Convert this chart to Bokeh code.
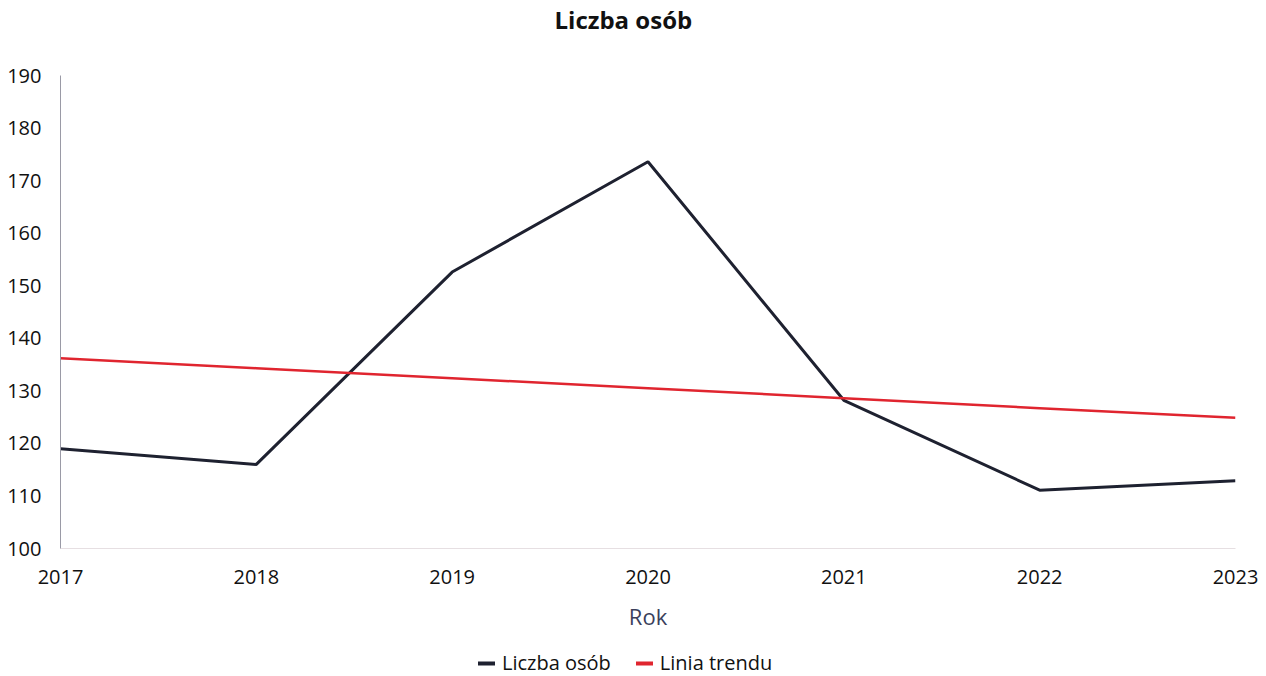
from bokeh.plotting import figure
from bokeh.models import Legend, LegendItem, FixedTicker, Range1d
from bokeh.layouts import column
from bokeh.embed import file_html
from bokeh.resources import INLINE

years = [2017, 2018, 2019, 2020, 2021, 2022, 2023]
liczba_osob = [119, 116, 152.6, 173.6, 128.2, 111.1, 112.9]
linia_trendu = [136.2, 134.3, 132.4, 130.5, 128.6, 126.7, 124.9]
y_ticks = [100, 110, 120, 130, 140, 150, 160, 170, 180, 190]
series_names = ["Liczba osób", "Linia trendu"]
series_colors = ["#1e2130", "#e0252f"]
title_text = "Liczba osób"
x_label = "Rok"

FONT = "Open Sans"
W = 1258


def blank(fig):
    fig.outline_line_color = None
    fig.xgrid.grid_line_color = None
    fig.ygrid.grid_line_color = None


# title strip
tf = figure(width=W, height=42, output_backend="svg", toolbar_location=None,
            x_range=Range1d(0, 1), y_range=Range1d(0, 1),
            x_axis_location=None, y_axis_location=None,
            min_border_left=0, min_border_right=0, min_border_top=0, min_border_bottom=0)
blank(tf)
tf.title.text = title_text
tf.title.align = "left"
tf.title.offset = 494
tf.title.text_font = FONT
tf.title.text_font_size = "24px"
tf.title.text_font_style = "bold"
tf.title.text_color = "#111111"
tf.title.standoff = 0

# main chart
p = figure(width=W, height=602, output_backend="svg", toolbar_location=None,
           x_range=Range1d(2017, 2023), y_range=Range1d(100, 190),
           min_border_left=60, min_border_right=23, min_border_top=33, min_border_bottom=96)
blank(p)
p.line(years, liczba_osob, line_color=series_colors[0], line_width=3)
p.line(years, linia_trendu, line_color=series_colors[1], line_width=2.5)

for ax in (p.xaxis[0], p.yaxis[0]):
    ax.major_tick_line_color = None
    ax.minor_tick_line_color = None
    ax.major_label_text_font = FONT
    ax.major_label_text_font_size = "20px"
    ax.major_label_text_color = "#111111"
p.yaxis[0].ticker = FixedTicker(ticks=y_ticks)
p.xaxis[0].ticker = FixedTicker(ticks=years)
p.yaxis[0].axis_line_color = "#9a9aa6"
p.yaxis[0].axis_line_width = 1
p.xaxis[0].axis_line_color = "#e6dfe2"
p.xaxis[0].major_label_standoff = 15
p.yaxis[0].major_label_standoff = 13
p.xaxis[0].axis_label = x_label
p.xaxis[0].axis_label_text_font = FONT
p.xaxis[0].axis_label_text_font_size = "22px"
p.xaxis[0].axis_label_text_font_style = "normal"
p.xaxis[0].axis_label_text_color = "#3b3f5c"
p.xaxis[0].axis_label_standoff = 14

# legend strip below the chart (series drawn off-range, only legend visible)
lg = figure(width=W, height=32, output_backend="svg", toolbar_location=None,
            x_range=Range1d(0, 1), y_range=Range1d(0, 1),
            x_axis_location=None, y_axis_location=None,
            min_border_left=0, min_border_right=0, min_border_top=0, min_border_bottom=0)
blank(lg)
items = []
for name, col, ys in zip(series_names, series_colors, [liczba_osob, linia_trendu]):
    r = lg.line(years, ys, line_color=col, line_width=4, line_cap="round")
    items.append(LegendItem(label=name, renderers=[r]))
legend = Legend(items=items, orientation="horizontal", location=(418, 0))
legend.label_text_font = FONT
legend.label_text_font_size = "20px"
legend.label_text_color = "#111111"
legend.glyph_width = 17
legend.label_standoff = 7
legend.spacing = 25
legend.border_line_color = None
legend.background_fill_alpha = 0
legend.margin = 0
legend.padding = 0
lg.add_layout(legend, "center")

layout = column(tf, p, lg, spacing=0)
open("out.html", "w").write(file_html(layout, INLINE))
